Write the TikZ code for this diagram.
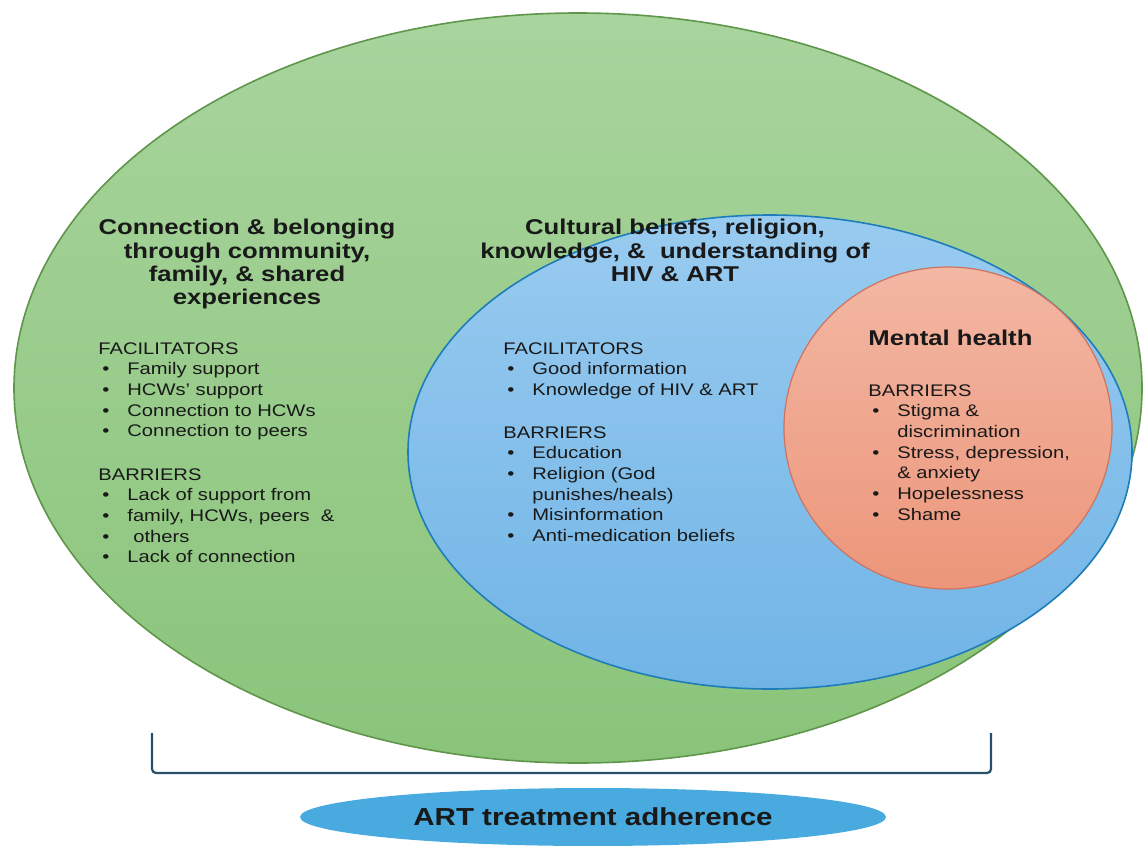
\documentclass[tikz,border=0pt]{standalone}
\usepackage{fontspec}
\setmainfont{Liberation Sans}[FakeStretch=1.2]
\usetikzlibrary{shapes.geometric}

\definecolor{greenTop}{RGB}{168,212,157}
\definecolor{greenBot}{RGB}{138,196,122}
\definecolor{greenLine}{RGB}{95,150,75}
\definecolor{blueTop}{RGB}{153,203,240}
\definecolor{blueBot}{RGB}{112,180,230}
\definecolor{blueLine}{RGB}{30,125,185}
\definecolor{redTop}{RGB}{243,183,163}
\definecolor{redBot}{RGB}{236,150,122}
\definecolor{redLine}{RGB}{205,115,95}
\definecolor{artBlue}{RGB}{72,170,222}
\definecolor{bracketBlue}{RGB}{38,80,105}
\definecolor{ink}{RGB}{25,25,25}

% bullet items and their continuation lines
\newcommand{\itm}[1]{\makebox[14.5pt][l]{\kern2pt\textbullet}#1}
\newcommand{\cont}[1]{\hspace*{14.5pt}#1}

\tikzset{
    heading/.style={font=\bfseries\fontsize{10.7}{11.6}\selectfont, align=center, inner sep=0pt, text=ink},
    listing/.style={font=\fontsize{8.4}{10.35}\selectfont, align=left, inner sep=0pt, anchor=north west, text=ink},
}

\begin{document}
\begin{tikzpicture}[x=0.5pt,y=-0.5pt]
    \useasboundingbox (0,0) rectangle (1143,845);

    % three nested areas
    \draw[greenLine, line width=0.8pt, top color=greenTop, bottom color=greenBot] (578,388) ellipse [x radius=282pt, y radius=187.5pt];
    \draw[blueLine, line width=0.8pt, top color=blueTop, bottom color=blueBot] (770,452) ellipse [x radius=181pt, y radius=118.5pt];
    \draw[redLine, line width=0.6pt, top color=redTop, bottom color=redBot] (948,428) ellipse [x radius=82pt, y radius=80.5pt];

    % outer area
    \node[heading, anchor=north] (community) at (247,219) {Connection \& belonging\\through community,\\family, \& shared\\experiences};
    \node[listing] (facilCommunity) at (98,342) {FACILITATORS\\\itm{Family support}\\\itm{HCWs' support}\\\itm{Connection to HCWs}\\\itm{Connection to peers}};
    \node[listing] (barrCommunity) at (98,468) {BARRIERS\\\itm{Lack of support from}\\\itm{family, HCWs, peers \ \&}\\\itm{\hspace{3pt}others}\\\itm{Lack of connection}};

    % middle area
    \node[heading, anchor=north] (beliefs) at (675,219) {Cultural beliefs, religion,\\knowledge, \& \ understanding of\\HIV \& ART};
    \node[listing] (facilBeliefs) at (503,342) {FACILITATORS\\\itm{Good information}\\\itm{Knowledge of HIV \& ART}};
    \node[listing] (barrBeliefs) at (503,426) {BARRIERS\\\itm{Education}\\\itm{Religion (God}\\\cont{punishes/heals)}\\\itm{Misinformation}\\\itm{Anti-medication beliefs}};

    % inner area
    \node[heading, anchor=north west] (mental) at (868,330) {Mental health};
    \node[listing] (barrMental) at (868,384) {BARRIERS\\\itm{Stigma \&}\\\cont{discrimination}\\\itm{Stress, depression,}\\\cont{\& anxiety}\\\itm{Hopelessness}\\\itm{Shame}};

    % bracket and outcome
    \draw[bracketBlue, line width=1.1pt, rounded corners=2pt] (152,733) -- (152,773) -- (991,773) -- (991,733);
    \node[ellipse, fill=artBlue, minimum width=293pt, minimum height=29pt, inner sep=0pt, font=\bfseries\fontsize{12.3}{14}\selectfont, text=ink] (adherence) at (593,817) {ART treatment adherence};
\end{tikzpicture}
\end{document}
